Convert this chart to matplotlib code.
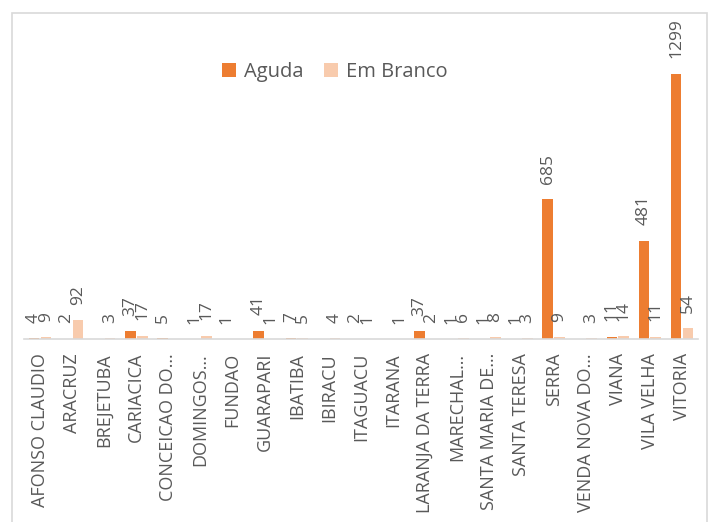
import numpy as np
import matplotlib
matplotlib.use('Agg')
import matplotlib.pyplot as plt
from matplotlib.patches import Rectangle

# municipalities and counts
cities = ['AFONSO CLAUDIO', 'ARACRUZ', 'BREJETUBA', 'CARIACICA', 'CONCEICAO DO…',
          'DOMINGOS…', 'FUNDAO', 'GUARAPARI', 'IBATIBA', 'IBIRACU', 'ITAGUACU',
          'ITARANA', 'LARANJA DA TERRA', 'MARECHAL…', 'SANTA MARIA DE…',
          'SANTA TERESA', 'SERRA', 'VENDA NOVA DO…', 'VIANA', 'VILA VELHA', 'VITORIA']
aguda = [4, 2, None, 37, 5, 1, 1, 41, 7, None, 2, None, 37, 1, 1, 1, 685, None, 11, 481, 1299]
em_branco = [9, 92, 3, 17, None, 17, None, 1, 5, 4, 1, 1, 2, 6, 8, 3, 9, 3, 14, 11, 54]

plt.rcParams['font.family'] = ['Open Sans', 'DejaVu Sans']
text_color = '#595959'

fig = plt.figure(figsize=(7.13, 5.22), dpi=100)
ax = fig.add_axes([24 / 713, 1 - 339 / 522, 674 / 713, 286 / 522])

x = np.arange(len(cities))
w = 0.33
off = 0.185
a_vals = np.array([np.nan if v is None else v for v in aguda], dtype=float)
b_vals = np.array([np.nan if v is None else v for v in em_branco], dtype=float)

ax.bar(x - off, np.nan_to_num(a_vals), w, color='#ED7D31', label='Aguda')
ax.bar(x + off, np.nan_to_num(b_vals), w, color='#F8CBAD', label='Em Branco')

# data labels, rotated like the original
for xs, vals in ((x - off, a_vals), (x + off, b_vals)):
    for xi, v in zip(xs, vals):
        if np.isnan(v):
            continue
        ax.annotate(f'{int(v)}', (xi, v), xytext=(0, 11), textcoords='offset points',
                    rotation=90, ha='center', va='bottom', fontsize=12.5, color=text_color)

ax.set_xlim(-0.5, len(cities) - 0.5)
ax.set_ylim(0, 1400)
ax.set_xticks(x)
ax.set_xticklabels(cities, rotation=90, fontsize=13, color=text_color)
ax.tick_params(axis='x', length=0, pad=10)
ax.set_yticks([])
for s in ['top', 'right', 'left']:
    ax.spines[s].set_visible(False)
ax.spines['bottom'].set_color('#D9D9D9')
ax.spines['bottom'].set_linewidth(1.2)
ax.patch.set_alpha(0)

leg = fig.legend(loc='center', bbox_to_anchor=(335 / 713, 1 - 72 / 522), ncol=2,
                 frameon=False, fontsize=14.5, handlelength=0.7, handleheight=0.7,
                 handletextpad=0.4, columnspacing=1.0)
for t in leg.get_texts():
    t.set_color(text_color)

# chart area border
fig.patches.append(Rectangle((12 / 713, -0.01), 695 / 713, 1 - 13 / 522 + 0.01,
                             transform=fig.transFigure, fill=False,
                             edgecolor='#D9D9D9', linewidth=1.2))

fig.savefig('out.png', dpi=100)
